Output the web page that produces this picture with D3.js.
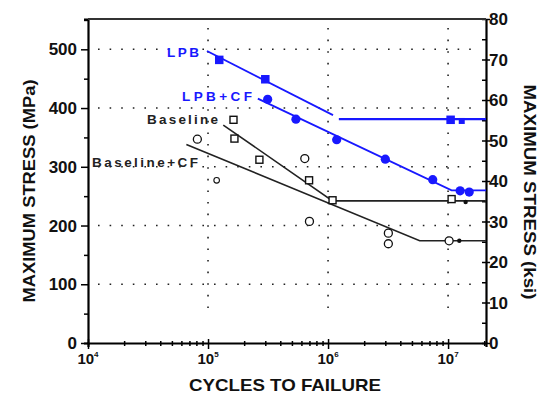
<!DOCTYPE html>
<html><head><meta charset="utf-8">
<script src="https://cdn.jsdelivr.net/npm/d3@7"></script>
<style>
html,body{margin:0;padding:0;background:#fff;}
svg{display:block;font-family:"Liberation Sans",Arial,sans-serif;}
</style></head>
<body><svg id="c" width="553" height="398"></svg>
<script>
// ---- data ----
const lpbN = [1.24e5, 3.0e5, 1.05e7, 1.3e7];
const lpbS = [482, 449, 380, 378];
const lpbcfN = [3.14e5, 5.4e5, 1.18e6, 3.0e6, 7.45e6, 1.26e7, 1.5e7];
const lpbcfS = [415, 381, 346, 313, 278, 259, 257];
const baseN = [1.63e5, 1.66e5, 2.68e5, 6.95e5, 1.09e6, 1.07e7];
const baseS = [380, 348, 312, 277, 243, 245];
const basecfN = [8.15e4, 6.4e5, 7.0e5, 3.18e6, 3.18e6, 1.02e7];
const basecfS = [347, 314, 207, 187, 169, 174];
const basecfSmallN = [1.18e5];
const basecfSmallS = [277];
const runoutN = [1.4e7, 1.24e7];
const runoutS = [240, 174];
// trend lines
const lpbLineN = [9.8e4, 1.1e6];
const lpbLineS = [497, 388];
const lpbFlatN = [1.23e6, 2.07e7];
const lpbFlatS = [381, 381];
const lpbcfLineN = [2.6e5, 1.07e7, 2.07e7];
const lpbcfLineS = [416, 260, 260];
const baseLineN = [1.34e5, 1.09e6, 2.07e7];
const baseLineS = [371, 242, 242];
const basecfLineN = [6.6e4, 5.8e6, 2.07e7];
const basecfLineS = [338, 174, 174];
// axis ticks
const mpaTicks = [0, 100, 200, 300, 400, 500];
const ksiTicks = [0, 10, 20, 30, 40, 50, 60, 70, 80];
const decades = [4, 5, 6, 7];
const seriesLabels = ["LPB", "LPB+CF", "Baseline", "Baseline+CF"];

const blue = "#1818ff";
const svg = d3.select("#c");
const L = 88, R = 486, T = 19, B = 343;
const x = d3.scaleLog().domain([1e4, 2.07e7]).range([L, R]);
const y = d3.scaleLinear().domain([0, 551.6]).range([B, T]);
const yk = d3.scaleLinear().domain([0, 80]).range([B, T]);

// grid
const g = svg.append("g").attr("stroke", "#222").attr("stroke-width", 1.6).attr("stroke-dasharray", "1.6,10");
mpaTicks.filter(d => d > 0).forEach(d => {
  g.append("line").attr("x1", L + 10).attr("x2", R - 6).attr("y1", y(d)).attr("y2", y(d));
});
[1e5, 1e6, 1e7].forEach(d => {
  g.append("line").attr("x1", x(d)).attr("x2", x(d)).attr("y1", T + 9).attr("y2", B - 34);
});

// axes
const ax = svg.append("g");
const xAxis = d3.axisBottom(x).tickValues(d3.range(4, 8).flatMap(e => d3.range(1, 10).map(k => k * Math.pow(10, e))).filter(v => v <= 2.07e7)).tickFormat("").tickSizeOuter(0)
  .tickSize(4);
const xa = ax.append("g").attr("transform", `translate(0,${B})`).call(xAxis);
xa.selectAll(".tick line").attr("stroke-width", 1.5).attr("y1", -2).attr("y2", 3);
xa.selectAll(".tick").filter(d => Math.abs(Math.log10(d) - Math.round(Math.log10(d))) < 1e-9)
  .select("line").attr("y1", -4).attr("y2", 6);
xa.select(".domain").attr("stroke-width", 2.2);

const yAxis = d3.axisLeft(y).tickValues(d3.range(0, 551, 50)).tickFormat("").tickSizeOuter(0).tickSize(4);
const ya = ax.append("g").attr("transform", `translate(${L},0)`).call(yAxis);
ya.select(".domain").attr("stroke-width", 2.2);
ya.selectAll(".tick line").attr("stroke-width", 1.5);
ya.selectAll(".tick").filter(d => d % 100 === 0).select("line").attr("x2", -7);

const yrAxis = d3.axisRight(yk).tickValues(d3.range(0, 81, 5)).tickFormat("").tickSizeOuter(0).tickSize(0);
const yra = ax.append("g").attr("transform", `translate(${R},0)`).call(yrAxis);
yra.select(".domain").attr("stroke-width", 2.2);
yra.selectAll(".tick line").attr("stroke-width", 1.5).attr("x1", -4).attr("x2", 0);
yra.selectAll(".tick").filter(d => d % 10 === 0).select("line").attr("x1", -4).attr("x2", 4);

svg.append("line").attr("x1", L).attr("x2", R).attr("y1", T).attr("y2", T).attr("stroke", "#333").attr("stroke-width", 2.2);

// tick labels
const lab = svg.append("g").attr("font-weight", "bold").attr("fill", "#111");
mpaTicks.forEach(d => {
  lab.append("text").attr("x", 77).attr("y", y(d)).attr("dy", "0.36em").attr("text-anchor", "end")
    .attr("font-size", 17).text(d);
});
ksiTicks.forEach(d => {
  lab.append("text").attr("x", 489).attr("y", yk(d)).attr("dy", "0.36em").attr("text-anchor", "start")
    .attr("font-size", 17).text(d);
});
decades.forEach(e => {
  const t = lab.append("text").attr("x", x(Math.pow(10, e))).attr("y", 364).attr("text-anchor", "middle").attr("font-size", 15);
  t.append("tspan").text("10");
  t.append("tspan").attr("font-size", 8).attr("dy", -7).text(e);
});

// axis titles
lab.append("text").attr("x", 285).attr("y", 391).attr("text-anchor", "middle").attr("font-size", 17)
  .attr("textLength", 192).attr("lengthAdjust", "spacingAndGlyphs").text("CYCLES TO FAILURE");
lab.append("text").attr("transform", "translate(35,191) rotate(-90)").attr("text-anchor", "middle").attr("font-size", 16)
  .attr("textLength", 223).attr("lengthAdjust", "spacingAndGlyphs").text("MAXIMUM STRESS (MPa)");
lab.append("text").attr("transform", "translate(524,192) rotate(90)").attr("text-anchor", "middle").attr("font-size", 16)
  .attr("textLength", 215).attr("lengthAdjust", "spacingAndGlyphs").text("MAXIMUM STRESS (ksi)");

// trend lines
const line = d3.line().x(d => x(d[0])).y(d => y(d[1]));
const drawLine = (N, S, col, w) => svg.append("path").datum(d3.zip(N, S)).attr("d", line)
  .attr("fill", "none").attr("stroke", col).attr("stroke-width", w);
drawLine(lpbLineN, lpbLineS, blue, 1.8);
drawLine(lpbFlatN, lpbFlatS, blue, 2.2);
drawLine(lpbcfLineN, lpbcfLineS, blue, 1.8);
drawLine(baseLineN, baseLineS, "#222", 1.6);
drawLine(basecfLineN, basecfLineS, "#222", 1.6);

// markers
const sq = svg.append("g");
d3.zip(lpbN, lpbS).forEach(([n, s], i) => {
  const sz = i === 3 ? 6 : 8.5;
  sq.append("rect").attr("x", x(n) - sz / 2).attr("y", y(s) - sz / 2).attr("width", sz).attr("height", sz).attr("fill", blue);
});
d3.zip(lpbcfN, lpbcfS).forEach(([n, s]) => {
  sq.append("circle").attr("cx", x(n)).attr("cy", y(s)).attr("r", 4.6).attr("fill", blue);
});
d3.zip(baseN, baseS).forEach(([n, s]) => {
  sq.append("rect").attr("x", x(n) - 3.5).attr("y", y(s) - 3.5).attr("width", 7).attr("height", 7)
    .attr("fill", "#fff").attr("stroke", "#111").attr("stroke-width", 1.4);
});
d3.zip(basecfN, basecfS).forEach(([n, s]) => {
  sq.append("circle").attr("cx", x(n)).attr("cy", y(s)).attr("r", 4)
    .attr("fill", "#fff").attr("stroke", "#111").attr("stroke-width", 1.3);
});
d3.zip(basecfSmallN, basecfSmallS).forEach(([n, s]) => {
  sq.append("circle").attr("cx", x(n)).attr("cy", y(s)).attr("r", 2.8)
    .attr("fill", "#fff").attr("stroke", "#111").attr("stroke-width", 1.1);
});
d3.zip(runoutN, runoutS).forEach(([n, s]) => {
  sq.append("circle").attr("cx", x(n)).attr("cy", y(s)).attr("r", 2.2).attr("fill", "#111");
});

// series labels
const sl = svg.append("g").attr("font-size", 13.5).attr("font-weight", "bold");
const lbl = [
  {t: seriesLabels[0], x: 167, y: 57, w: 32, c: blue},
  {t: seriesLabels[1], x: 182, y: 101, w: 70, c: blue},
  {t: seriesLabels[2], x: 147, y: 124, w: 71, c: "#222"},
  {t: seriesLabels[3], x: 92, y: 167, w: 106, c: "#222"}
];
lbl.forEach(d => sl.append("text").attr("x", d.x).attr("y", d.y).attr("fill", d.c)
  .attr("textLength", d.w).attr("lengthAdjust", "spacing").text(d.t));
</script></body></html>
